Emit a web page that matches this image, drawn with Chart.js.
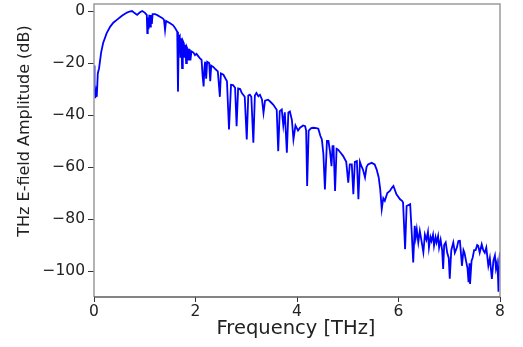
<!DOCTYPE html>
<html>
<head>
<meta charset="utf-8">
<script src="https://cdn.jsdelivr.net/npm/chart.js@4"></script>
<style>
  html, body { margin: 0; padding: 0; background: #fff; }
  canvas { display: block; }
</style>
</head>
<body>
<canvas id="spectrum" width="523" height="347"></canvas>
<script>
// THz spectrum (frequency in THz, amplitude in dB)
const freqTHz = [
  0.000, 0.010, 0.025, 0.040, 0.055, 0.075, 0.100, 0.140, 0.180, 0.250,
  0.320, 0.380, 0.450, 0.550, 0.650, 0.700, 0.750, 0.800, 0.850, 0.900,
  0.950, 1.000, 1.040, 1.050, 1.060, 1.075, 1.090, 1.105, 1.120, 1.140,
  1.155, 1.200, 1.240, 1.300, 1.360, 1.380, 1.400, 1.420, 1.500, 1.560,
  1.600, 1.640, 1.655, 1.670, 1.690, 1.705, 1.720, 1.735, 1.750, 1.770,
  1.785, 1.800, 1.815, 1.830, 1.850, 1.865, 1.880, 1.900, 1.920, 1.960,
  1.990, 2.020, 2.080, 2.120, 2.140, 2.160, 2.175, 2.190, 2.210, 2.230,
  2.270, 2.290, 2.310, 2.350, 2.400, 2.440, 2.480, 2.500, 2.550, 2.620,
  2.660, 2.700, 2.740, 2.780, 2.810, 2.840, 2.880, 2.910, 2.970, 3.010,
  3.040, 3.070, 3.100, 3.140, 3.170, 3.200, 3.240, 3.270, 3.310, 3.340,
  3.370, 3.430, 3.480, 3.530, 3.600, 3.630, 3.660, 3.700, 3.730, 3.760,
  3.800, 3.830, 3.860, 3.900, 3.930, 3.970, 4.020, 4.060, 4.120, 4.160,
  4.180, 4.200, 4.230, 4.280, 4.320, 4.380, 4.420, 4.460, 4.490, 4.520,
  4.550, 4.590, 4.620, 4.650, 4.680, 4.700, 4.720, 4.750, 4.780, 4.810,
  4.860, 4.910, 4.970, 5.010, 5.040, 5.080, 5.110, 5.140, 5.180, 5.210,
  5.240, 5.270, 5.300, 5.340, 5.370, 5.400, 5.470, 5.530, 5.570, 5.610,
  5.640, 5.670, 5.700, 5.730, 5.780, 5.830, 5.870, 5.900, 5.960, 6.030,
  6.070, 6.090, 6.130, 6.160, 6.230, 6.260, 6.290,
  6.320, 6.340, 6.360, 6.390, 6.420, 6.450, 6.490, 6.520, 6.550, 6.580,
  6.600, 6.630, 6.650, 6.680, 6.700, 6.730, 6.750, 6.780, 6.800, 6.830,
  6.860, 6.880, 6.900, 6.930, 6.960, 6.990, 7.010, 7.040, 7.080, 7.110,
  7.150, 7.180, 7.210, 7.230, 7.250, 7.280, 7.300, 7.330, 7.360, 7.380,
  7.400, 7.410, 7.440, 7.460, 7.490, 7.520, 7.550, 7.570, 7.600, 7.640,
  7.670, 7.700, 7.730, 7.770, 7.800, 7.840, 7.870, 7.900, 7.920, 7.940,
  7.960, 7.970, 7.985, 8.000,
];
const amplitudeDb = [
  -21, -30, -33.5, -31, -33, -24, -22, -16, -12.3, -8.5,
  -6, -4.5, -3.4, -1.8, -0.6, -0.2, 0, -0.8, -1.5, -0.6,
  0, -0.6, -1.5, -8.5, -2.5, -7, -1.5, -6, -1.5, -5,
  -1.2, -1.2, -1.5, -2.2, -2.9, -3.5, -7.3, -3.8, -4.7, -5.5,
  -6.6, -8, -31, -10, -9.5, -18, -10.5, -22, -11.5, -12.4,
  -18, -13, -20, -14, -15, -19, -14.5, -19, -15.5, -16,
  -17, -16.5, -18, -18.8, -25, -29, -22, -19.5, -26, -19.5,
  -20, -27, -21, -21.5, -22.5, -23.2, -33, -24, -24.5, -27,
  -45.6, -28.4, -28.5, -29.5, -44.3, -29.8, -30, -31.5, -33, -49.4,
  -32.5, -32.2, -33, -50.7, -32.5, -31.5, -32.8, -32.2, -34, -39.2,
  -34.5, -34.1, -35, -36, -38, -53.9, -38.5, -37.9, -44, -39,
  -54.5, -39, -38.6, -42, -49.4, -44, -46, -44.9, -44, -44.3,
  -46, -67.3, -46, -45, -44.9, -45, -45.3, -48, -49.4, -55,
  -68.6, -50, -50, -54, -59.7, -52, -52, -69.2, -53, -53.3,
  -54.5, -55.8, -58, -66, -59, -59, -70.5, -58, -57.7, -72.4,
  -58, -59.7, -61, -64, -60, -59, -58.4, -59, -61, -64,
  -68.6, -76.2, -72, -73, -70, -69.2, -68, -67.3, -70.5, -72.4,
  -73, -73.7, -91.6, -75, -74.3, -85, -96.7,
  -82.6, -87, -84, -89, -84.6, -88, -92.8, -86, -88, -85,
  -91, -87, -88.4, -86, -90.3, -87, -89, -86.5, -91, -88,
  -92, -99.2, -90, -89, -93, -95, -103, -92, -89, -93,
  -91, -88.5, -88.4, -93, -98, -92, -93, -96, -99, -104.3,
  -97, -105, -96, -95, -92, -92, -90, -90.3, -93, -89.7,
  -92, -93, -91, -98, -95, -103, -96, -94, -99, -97,
  -102, -108, -96, -92.8,
];
const xTickValues = [0, 2, 4, 6, 8];
const yTickValues = [0, -20, -40, -60, -80, -100];

const FONT = "'DejaVu Sans', sans-serif";

// frame on all four sides plus the two axis titles, drawn by hand
const frameAndTitles = {
  id: "frameAndTitles",
  afterDraw(chart) {
    const { ctx, chartArea: a } = chart;
    ctx.save();
    ctx.lineWidth = 1.5;
    ctx.strokeStyle = "#9a9a9a";
    ctx.beginPath();
    ctx.moveTo(a.left, a.bottom);
    ctx.lineTo(a.left, a.top);
    ctx.lineTo(a.right, a.top);
    ctx.lineTo(a.right, a.bottom);
    ctx.stroke();
    ctx.strokeStyle = "#5a5a5a";
    ctx.beginPath();
    ctx.moveTo(a.left, a.bottom);
    ctx.lineTo(a.right, a.bottom);
    ctx.stroke();

    ctx.fillStyle = "#222";
    ctx.textAlign = "center";
    ctx.textBaseline = "middle";
    ctx.font = "19.5px " + FONT;
    ctx.fillText("Frequency [THz]", 296, 329);

    ctx.translate(25, 131);
    ctx.rotate(-Math.PI / 2);
    ctx.font = "16px " + FONT;
    ctx.fillText("THz E-field Amplitude (dB)", 0, 0);
    ctx.restore();
  },
};

const minusSign = (v) => String(v).replace("-", "\u2212");

new Chart(document.getElementById("spectrum"), {
  type: "line",
  data: {
    datasets: [
      {
        data: freqTHz.map((f, i) => ({ x: f, y: amplitudeDb[i] })),
        borderColor: "#0000ff",
        borderWidth: 1.8,
        pointRadius: 0,
        tension: 0,
        fill: false,
      },
    ],
  },
  options: {
    responsive: false,
    animation: false,
    layout: { padding: { left: 0, right: 23, top: 4, bottom: 0 } },
    plugins: { legend: { display: false }, tooltip: { enabled: false } },
    scales: {
      x: {
        type: "linear",
        min: 0,
        max: 8,
        afterBuildTicks: (axis) => {
          axis.ticks = xTickValues.map((v) => ({ value: v }));
        },
        afterFit: (axis) => {
          axis.height = 50;
          axis.paddingLeft = 0;
          axis.paddingRight = 0;
        },
        ticks: {
          color: "#222",
          font: { family: FONT, size: 15.5 },
          padding: 1,
          maxRotation: 0,
          callback: minusSign,
        },
        grid: {
          drawOnChartArea: false,
          drawTicks: true,
          tickLength: 5,
          color: "#333",
        },
        border: { display: false },
      },
      y: {
        min: -110,
        max: 2.7,
        afterBuildTicks: (axis) => {
          axis.ticks = yTickValues.map((v) => ({ value: v }));
        },
        afterFit: (axis) => {
          axis.width = 94;
          axis.paddingTop = 0;
          axis.paddingBottom = 0;
        },
        ticks: {
          color: "#222",
          font: { family: FONT, size: 15.5 },
          padding: 3,
          callback: minusSign,
        },
        grid: {
          drawOnChartArea: false,
          drawTicks: true,
          tickLength: 6,
          color: "#333",
        },
        border: { display: false },
      },
    },
  },
  plugins: [frameAndTitles],
});
</script>
</body>
</html>
